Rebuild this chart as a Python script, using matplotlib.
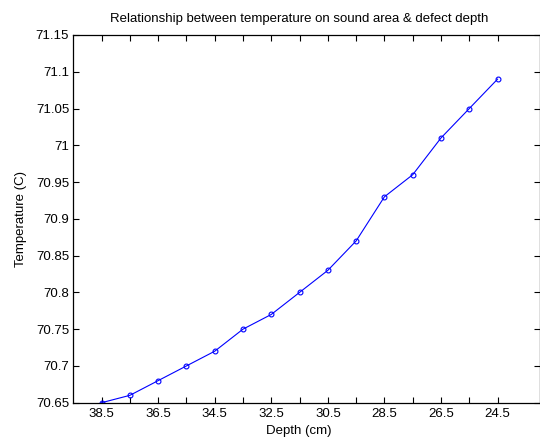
import numpy as np
import matplotlib
matplotlib.use('Agg')
import matplotlib.pyplot as plt

# data
depth = [38.5, 37.5, 36.5, 35.5, 34.5, 33.5, 32.5, 31.5, 30.5, 29.5,
         28.5, 27.5, 26.5, 25.5, 24.5]
temperature = [70.65, 70.66, 70.68, 70.70, 70.72, 70.75, 70.77, 70.80,
               70.83, 70.87, 70.93, 70.96, 71.01, 71.05, 71.09]
xtick_labels = [38.5, 36.5, 34.5, 32.5, 30.5, 28.5, 26.5, 24.5]
ytick_values = [70.65, 70.7, 70.75, 70.8, 70.85, 70.9, 70.95, 71.0, 71.05, 71.1, 71.15]

FS = 9.5
plt.rcParams['font.family'] = ['Liberation Sans', 'DejaVu Sans']
plt.rcParams['font.size'] = FS

fig = plt.figure(figsize=(5.4, 4.38), dpi=100)
ax = fig.add_axes([0.1357, 0.0806, 0.8643, 0.8395])

ax.plot(depth, temperature, color='#0000ff', linewidth=0.8,
        marker='o', markersize=3.5, markerfacecolor='none',
        markeredgecolor='#0000ff', markeredgewidth=0.8)

ax.set_xlim(39.5, 23.0)
ax.set_ylim(70.65, 71.15)
ax.set_xticks(xtick_labels)
ax.set_xticklabels([f"{v:g}" for v in xtick_labels])
ax.set_xticks([d for d in depth if d not in xtick_labels], minor=True)
ax.set_yticks(ytick_values)
ax.set_yticklabels([f"{v:g}" for v in ytick_values])

ax.tick_params(which='both', direction='in', top=True, right=True,
               length=4, width=0.8, labelsize=FS)
ax.tick_params(axis='x', which='both', pad=4)
ax.tick_params(axis='y', which='both', pad=3)
for s in ax.spines.values():
    s.set_linewidth(0.9)

# title and xlabel sit a little left of the axes centre in the reference
ax.set_title("Relationship between temperature on sound area & defect depth",
             fontsize=FS, pad=9, x=0.483)
ax.set_xlabel("Depth (cm)", fontsize=FS, labelpad=3.5)
ax.xaxis.label.set_x(0.483)
ax.set_ylabel("Temperature (C)", fontsize=FS, labelpad=6)

fig.savefig('out.png', dpi=100)
